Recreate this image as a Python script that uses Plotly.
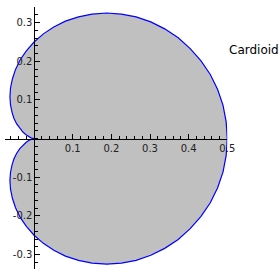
import plotly.graph_objects as go

# Cardioid outline (counter-clockwise, starting at x=0.5)
curve_x = [0.500, 0.497, 0.489, 0.475, 0.456, 0.432, 0.404, 0.373, 0.338, 0.302,
           0.264, 0.226, 0.188, 0.150, 0.115, 0.081, 0.051, 0.024, 0.000, -0.020,
           -0.036, -0.048, -0.056, -0.061, -0.0625, -0.061, -0.057, -0.052, -0.045, -0.037,
           -0.029, -0.021, -0.014, -0.008, -0.004, -0.001, 0.000,
           -0.001, -0.004, -0.008, -0.014, -0.021, -0.029, -0.037, -0.045, -0.052, -0.057,
           -0.061, -0.0625, -0.061, -0.056, -0.048, -0.036, -0.020, 0.000, 0.024, 0.051,
           0.081, 0.115, 0.150, 0.188, 0.226, 0.264, 0.302, 0.338, 0.373, 0.404,
           0.432, 0.456, 0.475, 0.489, 0.497, 0.500]
curve_y = [0.000, 0.044, 0.086, 0.127, 0.166, 0.201, 0.233, 0.261, 0.284, 0.302,
           0.315, 0.322, 0.325, 0.322, 0.315, 0.304, 0.289, 0.271, 0.250, 0.227,
           0.204, 0.179, 0.155, 0.131, 0.108, 0.087, 0.068, 0.052, 0.038, 0.026,
           0.017, 0.010, 0.005, 0.002, 0.001, 0.000, 0.000,
           -0.000, -0.001, -0.002, -0.005, -0.010, -0.017, -0.026, -0.038, -0.052, -0.068,
           -0.087, -0.108, -0.131, -0.155, -0.179, -0.204, -0.227, -0.250, -0.271, -0.289,
           -0.304, -0.315, -0.322, -0.325, -0.322, -0.315, -0.302, -0.284, -0.261, -0.233,
           -0.201, -0.166, -0.127, -0.086, -0.044, 0.000]

x_ticks = [0.1, 0.2, 0.3, 0.4, 0.5]
x_tick_labels = ["0.1", "0.2", "0.3", "0.4", "0.5"]
y_ticks = [-0.3, -0.2, -0.1, 0.1, 0.2, 0.3]
y_tick_labels = ["-0.3", "-0.2", "-0.1", "0.1", "0.2", "0.3"]
title_text = "Cardioid"

W, H = 280, 269
fig = go.Figure()
fig.add_trace(go.Scatter(
    x=curve_x, y=curve_y, mode="lines", fill="toself",
    fillcolor="#c0c0c0", line=dict(color="#0000ff", width=1.2),
    hoverinfo="skip", showlegend=False,
))

font = dict(family="DejaVu Sans", size=10, color="#222222")
axis_common = dict(
    showgrid=False, zeroline=False, showline=True, linecolor="#000000", linewidth=1,
    ticks="inside", ticklen=5, tickwidth=1, tickcolor="#000000",
    tickfont=font, anchor="free", automargin=False,
    minor=dict(ticks="inside", ticklen=2.5, tickwidth=1, tickcolor="#000000", dtick=0.02, showgrid=False),
)

fig.update_layout(
    width=W, height=H,
    margin=dict(l=0, r=0, t=0, b=0),
    paper_bgcolor="white", plot_bgcolor="white",
    xaxis=dict(axis_common, range=[-0.0745, 0.5], domain=[5.3 / W, 227.3 / W],
               tickmode="array", tickvals=x_ticks, ticktext=x_tick_labels,
               side="bottom", position=(H - 138.6) / H),
    yaxis=dict(axis_common, range=[-0.3374, 0.3413], domain=[0, (H - 6.7) / H],
               tickmode="array", tickvals=y_ticks, ticktext=y_tick_labels,
               side="left", position=34.3 / W),
    annotations=[dict(text=title_text, xref="paper", yref="paper",
                      x=253.8 / W, y=(H - 50) / H, xanchor="center", yanchor="middle",
                      showarrow=False, font=dict(family="DejaVu Sans", size=12, color="#000000"))],
)

fig.write_html("out.html", config=dict(displayModeBar=False),
               post_script="document.body.style.margin='0';document.body.style.overflow='hidden';")
